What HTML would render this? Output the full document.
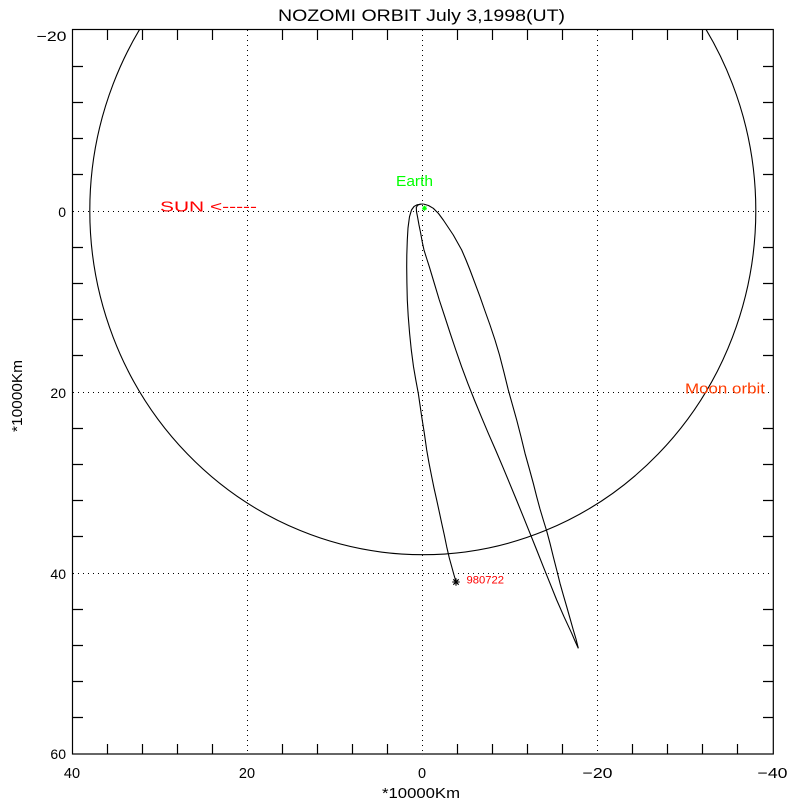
<!DOCTYPE html>
<html>
<head>
<meta charset="utf-8">
<style>
html,body{margin:0;padding:0;background:#fff;}
svg{display:block;}
text{font-family:"Liberation Sans",sans-serif;}
</style>
</head>
<body>
<svg width="800" height="800" viewBox="0 0 800 800" xmlns="http://www.w3.org/2000/svg">
<defs>
<clipPath id="pa"><rect x="72.5" y="29.5" width="700.8" height="724.5"/></clipPath>
</defs>
<rect width="800" height="800" fill="#fff"/>

<!-- title -->
<text x="278" y="21" font-size="17" textLength="287" lengthAdjust="spacingAndGlyphs" fill="#000">NOZOMI ORBIT July 3,1998(UT)</text>

<!-- grid dotted -->
<g stroke="#000" stroke-width="1" stroke-dasharray="1 4" fill="none">
<line x1="247.5" y1="30" x2="247.5" y2="754"/>
<line x1="422.5" y1="30" x2="422.5" y2="754"/>
<line x1="597.5" y1="30" x2="597.5" y2="754"/>
<line x1="73" y1="211.5" x2="773" y2="211.5"/>
<line x1="73" y1="392.5" x2="773" y2="392.5"/>
<line x1="73" y1="573.5" x2="773" y2="573.5"/>
</g>

<!-- frame -->
<rect x="72.5" y="29.5" width="700.8" height="724.5" fill="none" stroke="#000" stroke-width="1.2"/>

<!-- ticks -->
<g stroke="#000" stroke-width="1.2">
<path d="M107.5 30v10M142.5 30v10M177.5 30v10M212.5 30v10M282.5 30v10M317.5 30v10M352.5 30v10M387.5 30v10M457.5 30v10M492.5 30v10M527.5 30v10M562.5 30v10M632.5 30v10M667.5 30v10M702.5 30v10M737.5 30v10"/>
<path d="M107.5 754v-10M142.5 754v-10M177.5 754v-10M212.5 754v-10M282.5 754v-10M317.5 754v-10M352.5 754v-10M387.5 754v-10M457.5 754v-10M492.5 754v-10M527.5 754v-10M562.5 754v-10M632.5 754v-10M667.5 754v-10M702.5 754v-10M737.5 754v-10"/>
<path d="M73 66.5h10M73 102.5h10M73 138.5h10M73 174.5h10M73 247.5h10M73 283.5h10M73 319.5h10M73 355.5h10M73 428.5h10M73 464.5h10M73 500.5h10M73 536.5h10M73 609.5h10M73 645.5h10M73 681.5h10M73 717.5h10"/>
<path d="M773 66.5h-10M773 102.5h-10M773 138.5h-10M773 174.5h-10M773 247.5h-10M773 283.5h-10M773 319.5h-10M773 355.5h-10M773 428.5h-10M773 464.5h-10M773 500.5h-10M773 536.5h-10M773 609.5h-10M773 645.5h-10M773 681.5h-10M773 717.5h-10"/>
</g>

<!-- y tick labels -->
<g font-size="14" fill="#000" text-anchor="end">
<text x="66.5" y="41" textLength="30" lengthAdjust="spacingAndGlyphs">−20</text>
<text x="66" y="217">0</text>
<text x="66" y="398">20</text>
<text x="66" y="579">40</text>
<text x="66" y="759">60</text>
</g>
<!-- x tick labels -->
<g font-size="14.5" fill="#000" text-anchor="middle">
<text x="72" y="778">40</text>
<text x="247" y="778">20</text>
<text x="422" y="778">0</text>
<text x="597.5" y="778" textLength="30" lengthAdjust="spacingAndGlyphs">−20</text>
<text x="772.5" y="778" textLength="30" lengthAdjust="spacingAndGlyphs">−40</text>
</g>

<!-- axis titles -->
<text x="421" y="798" font-size="15" text-anchor="middle" textLength="78" lengthAdjust="spacingAndGlyphs" fill="#000">*10000Km</text>
<text transform="translate(22,396) rotate(-90)" x="0" y="0" font-size="15" text-anchor="middle" textLength="72" lengthAdjust="spacingAndGlyphs" fill="#000">*10000Km</text>

<!-- moon orbit -->
<g clip-path="url(#pa)">
<ellipse cx="422.8" cy="210.6" rx="333" ry="344.1" fill="none" stroke="#000" stroke-width="1.1"/>
</g>

<!-- trajectory -->
<g fill="none" stroke="#000" stroke-width="1.1" stroke-linejoin="round">
<polyline points="423.3,204 428.5,205.5 433.3,208.3 438.5,213.5 443.3,220 448.3,227.5 453.3,235 457.5,242.5 461.7,250 466,260 470,270 475,283.3 480,296.7 485,311 490,325 495,340 499.5,355 504,372.5 508.3,390 512.5,405 516.7,420 521,436.7 525,453.3 529.2,468.3 533.3,483.3 536.7,496.7 540,509 543.3,520 546.7,531 550,543.3 553.3,556.7 556.7,570 560,583.3 563.3,595 566.7,606.7 570,618.3 573.3,630 576,639 578.3,648.3"/>
<polyline points="578.3,648.3 575,641 571.7,633.3 564,616.7 556.7,600 550,583.3 543.3,566.7 536.7,550 530,533.3 523.3,516.7 516.5,500 509.6,483.3 502.7,466.7 495.6,450 488.3,433.3 481.3,416.7 474.4,400 467.8,383.3 461.6,366.7 455.8,350 450.2,333.3 444.8,316.7 439.3,300 434.3,283.3 429.3,266.7 426.5,258 424,250 422.2,241.7 420.7,233.3 419,225 417.5,216.7 416.5,211.5 416.3,207.5 417.5,205.3 420,204.2 423.3,204"/>
<polyline points="420.5,204.3 417,204.8 414,206.5 411.5,210 409.5,216.7 408,228 407.3,240 406.8,255 406.7,266.7 406.9,283 407.3,300 408.2,316 409.6,333.3 411.3,350 413.5,366.7 415.8,380 418.3,393.3 420,405 421.7,416.7 424.3,433 426.7,450 429,463 431.7,476.7 434,488 436.7,500 439.3,512 441.7,523.3 444.3,535 446.7,546.7 449.3,558 451.8,567 454,575 456,581.7"/>
</g>

<!-- 980722 marker -->
<g stroke="#000" stroke-width="1.1">
<path d="M452.2 582h7.6M456 578.2v7.6M453.3 579.3l5.4 5.4M458.7 579.3l-5.4 5.4"/>
</g>
<text x="466.5" y="583.5" font-size="11" fill="#ff0000" textLength="37.5" lengthAdjust="spacingAndGlyphs">980722</text>

<!-- earth marker -->
<g stroke="#00ff00" stroke-width="1">
<path d="M422 208.2h5M424.5 205.7v5M422.7 206.4l3.6 3.6M426.3 206.4l-3.6 3.6"/>
</g>
<text x="396" y="186" font-size="15" fill="#00ff00" textLength="37" lengthAdjust="spacingAndGlyphs">Earth</text>

<!-- SUN label -->
<text x="160" y="211.5" font-size="14.5" fill="#ff0000" textLength="97" lengthAdjust="spacingAndGlyphs">SUN &lt;-----</text>

<!-- Moon orbit label -->
<text x="685" y="393.5" font-size="14.5" fill="#ff3c00" textLength="80" lengthAdjust="spacingAndGlyphs">Moon orbit</text>
</svg>
</body>
</html>
